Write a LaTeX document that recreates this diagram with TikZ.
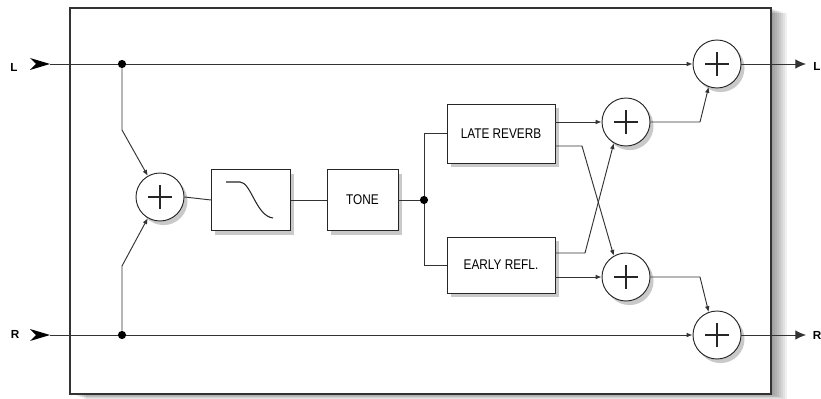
\documentclass[tikz,border=0pt]{standalone}
\usepackage{fontspec}
\setmainfont{Liberation Sans}
\usetikzlibrary{arrows.meta, shadows, positioning}

\begin{document}
\begin{tikzpicture}[
        x=0.03cm, 
        y=-0.03cm, 
        >={Latex[length=5pt, width=4pt]},
        sig/.style={draw=black!80, line width=0.8pt},
        ombre/.style={drop shadow={fill=black!60, opacity=0.35, shadow xshift=3pt, shadow yshift=-3.5pt}},
        cadre/.style={draw=black!80, line width=1.4pt, fill=white},
        boite/.style={draw=black!85, fill=white, line width=0.8pt, inner sep=0pt,
            font=\fontsize{12}{14}\selectfont\addfontfeature{FakeStretch=0.84}, ombre},
        somme/.style={circle, draw=black!85, fill=white, minimum size=1.44cm, inner sep=0pt,
            line width=0.8pt, ombre,
            path picture={
                \draw[line width=1.2pt] ([xshift=-0.36cm]path picture bounding box.center)
                    -- ([xshift=0.36cm]path picture bounding box.center);
                \draw[line width=1.2pt] ([yshift=-0.36cm]path picture bounding box.center)
                    -- ([yshift=0.36cm]path picture bounding box.center);
            }},
        point/.style={circle, fill=black, inner sep=0pt, minimum size=7pt},
        canal/.style={font=\bfseries\fontsize{10}{12}\selectfont, inner sep=0pt},
        sortie/.style={sig, -{Latex[length=9pt, width=8pt]}}
    ]
        \useasboundingbox (0,0) rectangle (821,399);

        % --- Cadre (ombre floue) ---
        \foreach \d in {2,4,...,16}
            \fill[black, opacity=0.06] (70+\d,8+\d/3) rectangle (771+\d,394+\d/3);
        \path[cadre] (70,8) rectangle (771,394);

        % --- Entrées / sorties ---
        \coordinate (inL)  at (50,64);
        \coordinate (inR)  at (50,335);
        \coordinate (outL) at (806,64);
        \coordinate (outR) at (806,335);
        \node[canal] (labInL)  at (14,67)  {L};
        \node[canal] (labInR)  at (15,334) {R};
        \node[canal] (labOutL) at (817,66) {L};
        \node[canal] (labOutR) at (817,335) {R};
        \fill[black] (inL) -- ++(-20,-6) -- ++(6,6) -- ++(-6,6) -- cycle;
        \fill[black] (inR) -- ++(-20,-6) -- ++(6,6) -- ++(-6,6) -- cycle;

        % --- Points de jonction ---
        \node[point] (jL) at (122,64)  {};
        \node[point] (jR) at (122,335) {};
        \node[point] (jT) at (424,200) {};
        \coordinate (kL) at (122,130);     % coude vers la somme
        \coordinate (kR) at (122,266);
        \coordinate (xA) at (582,146);     % croisement LATE -> bas
        \coordinate (xB) at (585,253);     % croisement EARLY -> haut
        \coordinate (kA) at (700,122);
        \coordinate (kB) at (700,277);

        % --- Blocs ---
        \node[somme] (sumIn) at (160,197) {};
        \node[boite, minimum width=2.37cm, minimum height=1.83cm] (filt) at (251,200) {};
        \node[boite, minimum width=2.13cm, minimum height=1.83cm] (tone) at (362.5,200) {TONE};
        \node[boite, minimum width=3.24cm, minimum height=1.77cm] (late) at (501,133.5) {LATE REVERB};
        \node[boite, minimum width=3.24cm, minimum height=1.68cm] (early) at (501,265) {EARLY REFL.};
        \node[somme] (sumA)  at (626,122) {};
        \node[somme] (sumB)  at (626,277) {};
        \node[somme] (sumOL) at (717,64)  {};
        \node[somme] (sumOR) at (717,335) {};

        % Courbe du filtre passe-bas
        \draw[black!85, line width=0.9pt] (226,182) -- (240,182)
            .. controls (251,182) and (256,216) .. (273,218);

        % --- Liaisons ---
        \draw[sig] (inL) -- (jL);
        \draw[sig, ->] (jL) -- (sumOL.west);
        \draw[sig] (inR) -- (jR);
        \draw[sig, ->] (jR) -- (sumOR.west);
        \draw[sig, ->] (jL) -- (kL) -- (sumIn.120);
        \draw[sig, ->] (jR) -- (kR) -- (sumIn.240);
        \draw[sig] (sumIn.east) -- (filt.west);
        \draw[sig] (filt.east) -- (tone.west);
        \draw[sig] (tone.east) -- (jT);
        \draw[sig] (jT) |- (late.west);
        \draw[sig] (jT) |- (early.west);

        \draw[sig, ->] (sumA.west -| late.east) -- (sumA.west);
        \draw[sig, ->] (late.east |- xA) -- (xA) -- (sumB.120);
        \draw[sig, ->] (early.east |- xB) -- (xB) -- (sumA.240);
        \draw[sig, ->] (sumB.west -| early.east) -- (sumB.west);

        \draw[sig, ->] (sumA.east) -- (kA) -- (sumOL.250);
        \draw[sig, ->] (sumB.east) -- (kB) -- (sumOR.110);

        \draw[sortie] (sumOL.east) -- (outL);
        \draw[sortie] (sumOR.east) -- (outR);

    \end{tikzpicture}
\end{document}
